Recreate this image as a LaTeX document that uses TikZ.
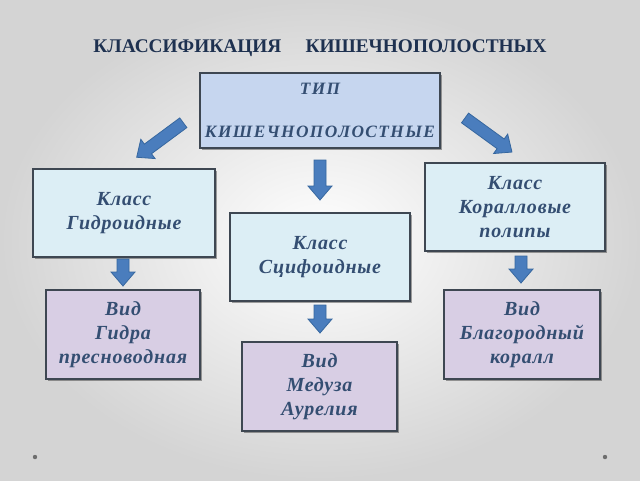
\documentclass[tikz,border=0pt]{standalone}
\usepackage{fontspec}
\setmainfont{Liberation Serif}
\usetikzlibrary{shadows}
\definecolor{bgouter}{HTML}{D4D4D4}
\definecolor{titlecol}{HTML}{1E3150}
\definecolor{txtcol}{HTML}{344E72}
\definecolor{typefill}{HTML}{C6D6EF}
\definecolor{classfill}{HTML}{DCEEF5}
\definecolor{vidfill}{HTML}{D8CEE4}
\definecolor{bordcol}{HTML}{3E4752}
\definecolor{arrfill}{HTML}{4A7DBD}
\definecolor{arrdraw}{HTML}{36679F}
\definecolor{dotcol}{HTML}{6E6E6E}
\tikzset{
  box/.style={draw=bordcol, line width=1.2pt, align=center, text=txtcol,
    font=\fontsize{15}{18}\selectfont\bfseries\itshape\addfontfeature{LetterSpace=4},
    drop shadow={shadow xshift=1.5pt, shadow yshift=-1.5pt, fill=black, opacity=0.35},
    inner sep=0pt},
  classbox/.style={box, fill=classfill},
  vidbox/.style={box, fill=vidfill},
  blockarrow/.style={draw=arrdraw, fill=arrfill, line width=0.6pt, line join=miter},
}
% \barrow{x}{y}{canvas angle}{length in px}{name}
\newcommand\barrow[5]{%
  \begin{scope}[shift={(#1,#2)}, rotate=#3]
    \draw[blockarrow] (-#4/2,-6) -- (#4/2-14,-6) -- (#4/2-14,-12) -- (#4/2,0)
      -- (#4/2-14,12) -- (#4/2-14,6) -- (-#4/2,6) -- cycle;
    \coordinate (#5) at (0,0);
  \end{scope}}
\begin{document}
\begin{tikzpicture}[x=0.75pt, y=-0.75pt]
\useasboundingbox (0,0) rectangle (640,480);
\shade[inner color=white, outer color=bgouter] (0,0) rectangle (640,480);
\fill[dotcol] (35,457) circle (2.2);
\fill[dotcol] (605,457) circle (2.2);
\node[text=titlecol, font=\fontsize{14.5}{17}\selectfont\bfseries] (title) at (320,48) {КЛАССИФИКАЦИЯ\quad\ КИШЕЧНОПОЛОСТНЫХ};
\node[box, fill=typefill, minimum width=240*0.75pt, minimum height=75*0.75pt,
  font=\fontsize{13}{32}\selectfont\bfseries\itshape\addfontfeature{LetterSpace=8}] (type) at (320,110.5) {ТИП\\КИШЕЧНОПОЛОСТНЫЕ};
\node[classbox, minimum width=182*0.75pt, minimum height=88*0.75pt] (hydro) at (124,213) {Класс\\Гидроидные};
\node[classbox, minimum width=180*0.75pt, minimum height=88*0.75pt] (scyph) at (320,257) {Класс\\Сцифоидные};
\node[classbox, minimum width=180*0.75pt, minimum height=88*0.75pt] (coral) at (515,207) {Класс\\Коралловые\\полипы};
\node[vidbox, minimum width=154*0.75pt, minimum height=89*0.75pt] (hydra) at (123,334.5) {Вид\\Гидра\\пресноводная};
\node[vidbox, minimum width=155*0.75pt, minimum height=89*0.75pt] (medusa) at (319.5,386.5) {Вид\\Медуза\\Аурелия};
\node[vidbox, minimum width=156*0.75pt, minimum height=89*0.75pt] (noble) at (522,334.5) {Вид\\Благородный\\коралл};
% block arrows
\barrow{160}{140}{216.5}{58}{a1}
\barrow{488.5}{135}{-36}{58}{a2}
\barrow{320}{180}{-90}{40}{a3}
\barrow{123}{272.5}{-90}{27}{a4}
\barrow{320}{319}{-90}{28}{a5}
\barrow{521}{269.5}{-90}{27}{a6}
\end{tikzpicture}
\end{document}
